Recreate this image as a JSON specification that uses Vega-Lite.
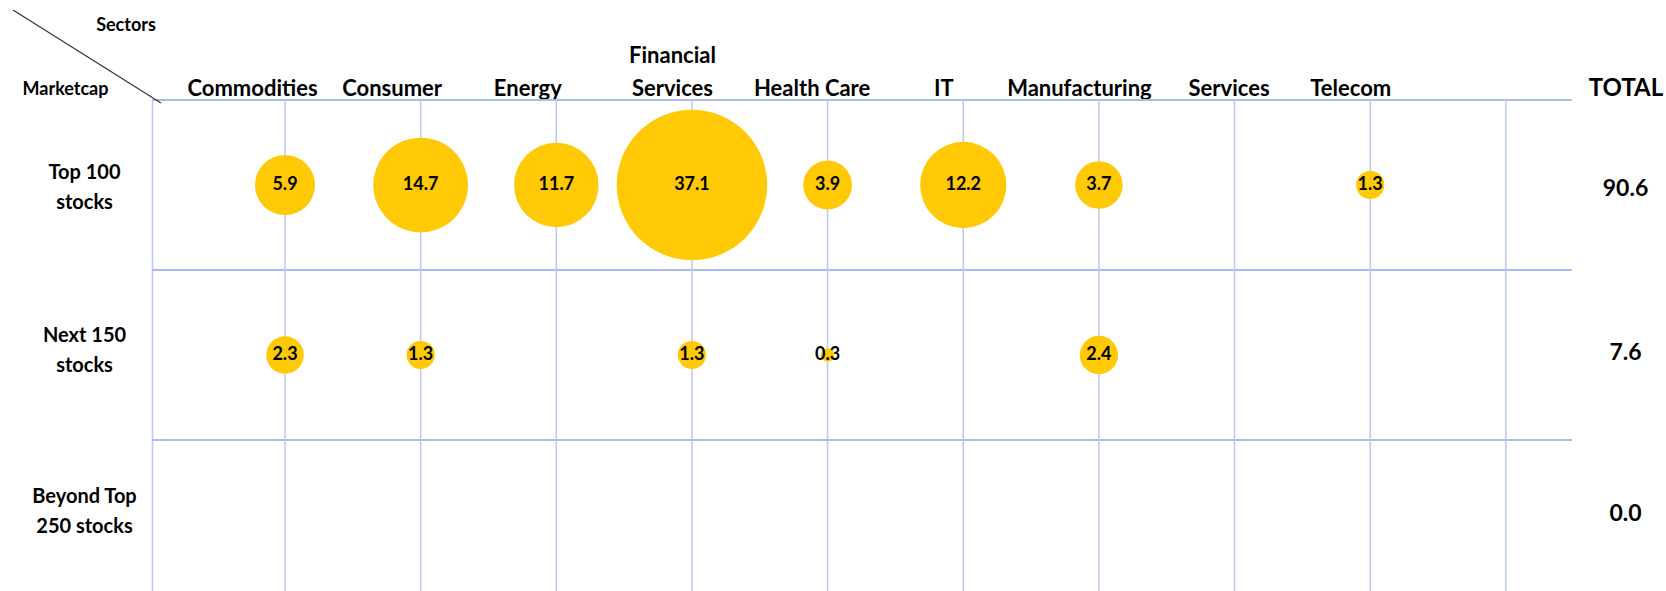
{
  "$schema": "https://vega.github.io/schema/vega-lite/v6.json",
  "width": 1420,
  "height": 491,
  "autosize": {"type": "none"},
  "padding": {"left": 152, "top": 100, "right": 94, "bottom": 0},
  "background": "white",
  "config": {"view": {"stroke": null}, "font": "Lato"},
  "datasets": {
    "cells": [
      {"marketcap": "Top 100 stocks", "sector": "Commodities", "value": 5.9},
      {"marketcap": "Top 100 stocks", "sector": "Consumer", "value": 14.7},
      {"marketcap": "Top 100 stocks", "sector": "Energy", "value": 11.7},
      {"marketcap": "Top 100 stocks", "sector": "Financial Services", "value": 37.1},
      {"marketcap": "Top 100 stocks", "sector": "Health Care", "value": 3.9},
      {"marketcap": "Top 100 stocks", "sector": "IT", "value": 12.2},
      {"marketcap": "Top 100 stocks", "sector": "Manufacturing", "value": 3.7},
      {"marketcap": "Top 100 stocks", "sector": "Telecom", "value": 1.3},
      {"marketcap": "Next 150 stocks", "sector": "Commodities", "value": 2.3},
      {"marketcap": "Next 150 stocks", "sector": "Consumer", "value": 1.3},
      {"marketcap": "Next 150 stocks", "sector": "Financial Services", "value": 1.3},
      {"marketcap": "Next 150 stocks", "sector": "Health Care", "value": 0.3},
      {"marketcap": "Next 150 stocks", "sector": "Manufacturing", "value": 2.4}
    ],
    "columns": [
      {"sector": "Commodities"}, {"sector": "Consumer"}, {"sector": "Energy"},
      {"sector": "Financial Services"}, {"sector": "Health Care"}, {"sector": "IT"},
      {"sector": "Manufacturing"}, {"sector": "Services"}, {"sector": "Telecom"},
      {"sector": "(blank)"}
    ],
    "totals": [
      {"marketcap": "Top 100 stocks", "total": 90.6},
      {"marketcap": "Next 150 stocks", "total": 7.6},
      {"marketcap": "Beyond Top 250 stocks", "total": 0.0}
    ]
  },
  "layer": [
    {
      "layer": [
        {
          "data": {"name": "totals"},
          "mark": {"type": "rule", "color": "#AABBEE", "strokeWidth": 2},
          "encoding": {
            "y": {
              "field": "marketcap",
              "type": "nominal",
              "bandPosition": 0,
              "scale": {
                "type": "band",
                "domain": ["Top 100 stocks", "Next 150 stocks", "Beyond Top 250 stocks"],
                "range": [0, 510],
                "paddingInner": 0,
                "paddingOuter": 0
              },
              "axis": {
                "orient": "left",
                "title": "Marketcap",
                "titleX": -87,
                "titleY": -11,
                "titleAngle": 0,
                "titleAlign": "center",
                "titleBaseline": "middle",
                "titleFont": "Lato",
                "titleFontSize": 18,
                "titleFontWeight": "bold",
                "titleColor": "#000000",
                "domain": true,
                "domainColor": "#BCC8F2",
                "domainWidth": 1.5,
                "ticks": false,
                "grid": false,
                "labelAlign": "center",
                "labelBaseline": "middle",
                "labelPadding": 68,
                "labelFont": "Lato",
                "labelFontSize": 20,
                "labelFontWeight": "bold",
                "labelColor": "#000000",
                "labelLineHeight": 30,
                "labelOverlap": false,
                "labelOffset": {
                  "condition": [
                    {"test": "datum.value == 'Top 100 stocks'", "value": -12},
                    {"test": "datum.value == 'Beyond Top 250 stocks'", "value": -28}
                  ],
                  "value": -19
                },
                "labelExpr": "datum.value == 'Top 100 stocks' ? ['Top 100', 'stocks'] : datum.value == 'Next 150 stocks' ? ['Next 150', 'stocks'] : ['Beyond Top', '250 stocks']"
              }
            }
          }
        },
        {
          "data": {"name": "columns"},
          "mark": {"type": "rule", "color": "#BCC8F2", "strokeWidth": 1.5},
          "encoding": {
            "x": {
              "field": "sector",
              "type": "nominal",
              "scale": {
                "type": "point",
                "domain": ["Commodities", "Consumer", "Energy", "Financial Services", "Health Care", "IT", "Manufacturing", "Services", "Telecom", "(blank)", "TOTAL"],
                "range": [133, 1489.5],
                "padding": 0
              },
              "axis": {
                "orient": "top",
                "title": "Sectors",
                "titleX": -26.5,
                "titleY": -75,
                "titleAngle": 0,
                "titleAlign": "center",
                "titleBaseline": "middle",
                "titleFont": "Lato",
                "titleFontSize": 18,
                "titleFontWeight": "bold",
                "titleColor": "#000000",
                "domain": false,
                "ticks": false,
                "grid": false,
                "labelAngle": 0,
                "labelFont": "Lato",
                "labelFontWeight": "bold",
                "labelColor": "#000000",
                "labelFontSize": {"condition": {"test": "datum.value == 'TOTAL'", "value": 24}, "value": 22},
                "labelOffset": {
                  "condition": [
                    {"test": "datum.value == 'Commodities'", "value": -33},
                    {"test": "datum.value == 'Consumer' || datum.value == 'Energy'", "value": -29},
                    {"test": "datum.value == 'Health Care' || datum.value == 'TOTAL'", "value": -16},
                    {"test": "datum.value == 'Services'", "value": -6}
                  ],
                  "value": -20
                },
                "labelPadding": {"condition": {"test": "datum.value == 'Financial Services'", "value": 33}, "value": 0},
                "labelLineHeight": 33,
                "labelBaseline": "bottom",
                "labelOverlap": false,
                "labelLimit": 300,
                "labelExpr": "datum.value == '(blank)' ? '' : datum.value == 'Financial Services' ? ['Financial', 'Services'] : datum.value"
              }
            }
          }
        },
        {
          "data": {"name": "cells"},
          "mark": {"type": "circle", "opacity": 1, "color": "#FFC905"},
          "encoding": {
            "x": {"field": "sector", "type": "nominal"},
            "y": {"field": "marketcap", "type": "nominal"},
            "size": {
              "field": "value",
              "type": "quantitative",
              "scale": {"type": "linear", "domain": [0, 40], "range": [0, 24400]},
              "legend": null
            }
          }
        },
        {
          "data": {"name": "cells"},
          "mark": {"type": "text", "font": "Lato", "fontWeight": "bold", "fontSize": 18, "color": "#000000", "baseline": "middle"},
          "encoding": {
            "x": {"field": "sector", "type": "nominal"},
            "y": {"field": "marketcap", "type": "nominal"},
            "text": {"field": "value", "type": "quantitative", "format": ".1f"}
          }
        },
        {
          "data": {"name": "totals"},
          "mark": {
            "type": "text",
            "font": "Lato",
            "fontWeight": "bold",
            "fontSize": 23,
            "color": "#000000",
            "baseline": "middle",
            "dx": -16,
            "dy": {"expr": "datum.marketcap == 'Beyond Top 250 stocks' ? -11 : datum.marketcap == 'Top 100 stocks' ? 4 : -2"}
          },
          "encoding": {
            "x": {"datum": "TOTAL", "type": "nominal"},
            "y": {"field": "marketcap", "type": "nominal"},
            "text": {"field": "total", "type": "quantitative", "format": ".1f"}
          }
        }
      ]
    },
    {
      "data": {"values": [{"corner": "Sectors / Marketcap"}]},
      "mark": {"type": "rule", "color": "#333333", "strokeWidth": 1.2},
      "encoding": {
        "x": {"datum": 0, "type": "quantitative", "scale": {"domain": [0, 1], "range": [-139, 9]}, "axis": null},
        "x2": {"datum": 1},
        "y": {"datum": 0, "type": "quantitative", "scale": {"domain": [0, 1], "range": [-90, 3]}, "axis": null},
        "y2": {"datum": 1}
      }
    }
  ],
  "resolve": {"scale": {"x": "independent", "y": "independent"}}
}
